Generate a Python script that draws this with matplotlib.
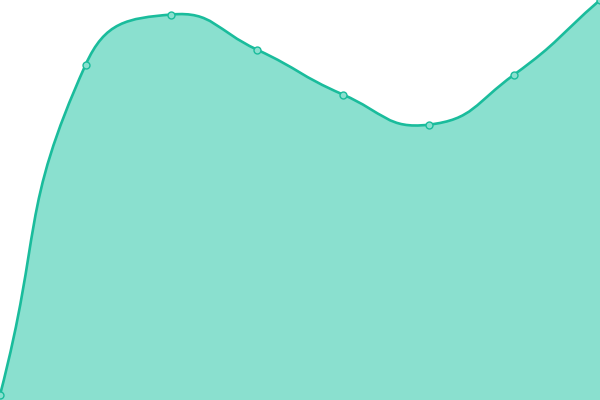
import matplotlib
matplotlib.use('Agg')
import matplotlib.pyplot as plt
from matplotlib.path import Path
from matplotlib.patches import PathPatch
import numpy as np

# series values (y axis 0..400)
categories = ['A', 'B', 'C', 'D', 'E', 'F', 'G', 'H']
values = [5, 335.5, 385.5, 350.3, 305.5, 275.3, 325.5, 400]

LINE = '#1abc9c'
FILL = '#8ae0cf'
SMOOTH = 0.5


def smooth_path(px, py):
    """Bezier path through points, zrender-style smoothing (pixel space)."""
    n = len(px)
    cps_out = []
    cps_in = []
    for i in range(n):
        x, y = px[i], py[i]
        j0 = max(i - 1, 0)
        j1 = min(i + 1, n - 1)
        vx = (px[j1] - px[j0]) * SMOOTH
        vy = (py[j1] - py[j0]) * SMOOTH
        d0 = np.hypot(x - px[j0], y - py[j0])
        d1 = np.hypot(px[j1] - x, py[j1] - y)
        tot = d0 + d1
        d0, d1 = d0 / tot, d1 / tot
        cps_in.append((x - vx * d0, y - vy * d0))
        cps_out.append((x + vx * d1, y + vy * d1))
    verts = [(px[0], py[0])]
    codes = [Path.MOVETO]
    for i in range(1, n):
        verts += [cps_out[i - 1], cps_in[i], (px[i], py[i])]
        codes += [Path.CURVE4] * 3
    return verts, codes


fig = plt.figure(figsize=(6, 4), dpi=100)
ax = fig.add_axes([0, 0, 1, 1])
ax.set_xlim(0, len(categories) - 1)
ax.set_ylim(0, 400)
ax.axis('off')

# work in pixel space so smoothing distances match the screen
xs = np.arange(len(categories))
sx = 600 / (len(categories) - 1)
verts, codes = smooth_path(xs * sx, np.array(values, dtype=float))
verts = [(vx / sx, vy) for vx, vy in verts]

line_path = Path(verts, codes)
fill_verts = verts + [(xs[-1], 0), (xs[0], 0), verts[0]]
fill_codes = codes + [Path.LINETO, Path.LINETO, Path.CLOSEPOLY]
ax.add_patch(PathPatch(Path(fill_verts, fill_codes), facecolor=FILL,
                       edgecolor='none'))
ax.add_patch(PathPatch(line_path, facecolor='none', edgecolor=LINE, lw=1.9,
                       capstyle='round', joinstyle='round'))
ax.plot(xs, values, 'o', ms=5, mfc=FILL, mec=LINE, mew=1, clip_on=False)

fig.savefig('out.png', dpi=100)
